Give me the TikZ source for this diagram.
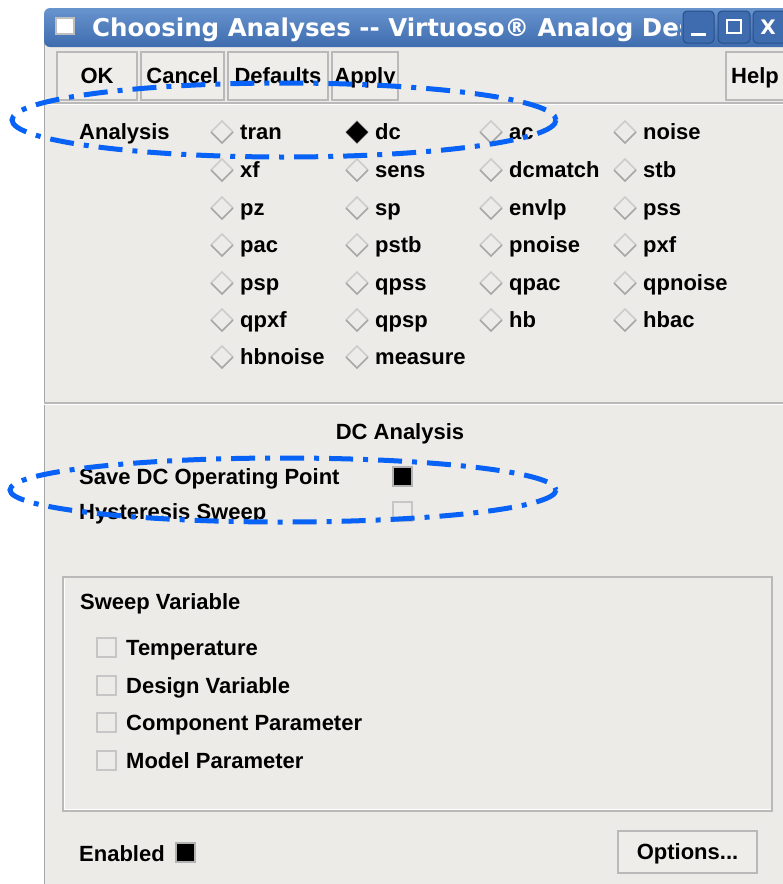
\documentclass[tikz,border=0pt]{standalone}
\usepackage{fontspec}
\setmainfont{Liberation Sans}
\newfontfamily\titlefont{DejaVu Sans}
\definecolor{winbg}{RGB}{237,235,231}
\definecolor{btnbg}{RGB}{238,237,234}
\definecolor{titletop}{RGB}{104,148,206}
\definecolor{titlebot}{RGB}{62,108,174}
\definecolor{titleedge}{RGB}{40,78,140}
\definecolor{markblue}{RGB}{8,98,245}
\tikzset{
  lbl/.style={anchor=base west,inner sep=0pt,font=\fontsize{22}{26}\selectfont\bfseries},
  btn/.style={draw=gray!55,fill=btnbg,line width=1.2pt,inner sep=0pt,
    font=\fontsize{22}{26}\selectfont\bfseries,text height=15.8pt,text depth=0pt},
  winbtn/.style={draw=titleedge,fill=titlebot,rounded corners=4pt,line width=1pt},
  hilite/.style={draw=markblue,line width=5pt,dash pattern=on 24pt off 10pt on 5pt off 10pt},
  boxoff/.style={draw=gray!45,fill=winbg,line width=1.2pt},
  boxon/.style={draw=gray!60,fill=black,line width=1.2pt}
}
\begin{document}
\begin{tikzpicture}[x=1pt,y=-1pt]
	\useasboundingbox (0,0) rectangle (783,884);
	\fill[winbg] (44,40) rectangle (783,884);%window body
	\draw[gray!70,line width=1.2pt] (44.6,30) -- (44.6,884);%left border

	% title bar
	\shade[top color=titletop,bottom color=titlebot,rounded corners=6pt] (44,8) rectangle (800,47);
	\draw[gray!50,fill=white,line width=1.5pt] (56,18) rectangle (74,34);%window icon
	\begin{scope}
		\clip (44,8) rectangle (680,47);
		\node[anchor=base west,inner sep=0pt,text=white,font=\titlefont\fontsize{24.5}{28}\selectfont\bfseries] (title) at (92,36) {Choosing Analyses -- Virtuoso® Analog Des};
	\end{scope}
	\draw[winbtn] (683,11) rectangle (714,43);%minimize
	\draw[white,line width=3pt] (691,34) -- (706,34);
	\draw[winbtn] (718,11) rectangle (750,43);%maximize
	\draw[white,line width=2.2pt] (727,20) rectangle (741,33);
	\draw[winbtn] (753,11) rectangle (790,43);%close
	\node[inner sep=0pt,text=white,font=\titlefont\fontsize{20}{24}\selectfont\bfseries] (close) at (768,27) {X};

	% toolbar
	\node[btn,minimum width=80pt,minimum height=48pt] (ok) at (97,76) {OK};
	\node[btn,minimum width=83pt,minimum height=48pt] (cancel) at (182.5,76) {Cancel};
	\node[btn,minimum width=100pt,minimum height=48pt] (defaults) at (278,76) {Defaults};
	\node[btn,minimum width=66pt,minimum height=48pt] (apply) at (365,76) {Apply};
	\node[btn,minimum width=58pt,minimum height=48pt] (help) at (755,76) {Help};
	\draw[gray!55,line width=1.2pt] (44,103) -- (783,103);
	\draw[white,line width=1.2pt] (44,104.5) -- (783,104.5);

	% analysis choice
	\node[lbl] (analysis) at (79,139) {Analysis};
	\foreach \lab/\cx/\by in {tran/222/139,dc/357/139,ac/491/139,noise/625/139,
	  xf/222/177,sens/357/177,dcmatch/491/177,stb/625/177,
	  pz/222/215,sp/357/215,envlp/491/215,pss/625/215,
	  pac/222/252,pstb/357/252,pnoise/491/252,pxf/625/252,
	  psp/222/290,qpss/357/290,qpac/491/290,qpnoise/625/290,
	  qpxf/222/327,qpsp/357/327,hb/491/327,hbac/625/327,
	  hbnoise/222/364,measure/357/364}{
		\draw[gray!40,line width=1.6pt] (\cx-11,\by-7) -- (\cx,\by-18) -- (\cx+11,\by-7);
		\draw[gray!70,line width=1.6pt] (\cx-11,\by-7) -- (\cx,\by+4) -- (\cx+11,\by-7);
		\node[lbl] (r\lab) at (\cx+18,\by) {\lab};
	}
	\fill[black] (346,132) -- (357,121) -- (368,132) -- (357,143) -- cycle;%dc selected

	\draw[gray!55,line width=1.2pt] (44,403) -- (783,403);
	\draw[white,line width=1.2pt] (44,404.5) -- (783,404.5);

	% DC options
	\node[anchor=base,inner sep=0pt,font=\fontsize{22}{26}\selectfont\bfseries] (dchead) at (400,439) {DC Analysis};
	\node[lbl] (savedc) at (79,484) {Save DC Operating Point};
	\draw[boxon] (393,467) rectangle (412,486);
	\node[lbl] (hyst) at (79,519) {Hysteresis Sweep};
	\draw[boxoff] (393,502) rectangle (412,521);

	% sweep variable frame
	\draw[gray!55,line width=1.2pt] (63,577) rectangle (772,811);
	\draw[white,line width=1.2pt] (64.5,578.5) -- (64.5,809.5) -- (770.5,809.5);
	\node[lbl] (sweep) at (80,609) {Sweep Variable};
	\draw[boxoff] (97,638) rectangle (116,657);
	\node[lbl] (temp) at (126,655) {Temperature};
	\draw[boxoff] (97,676) rectangle (116,695);
	\node[lbl] (desvar) at (126,693) {Design Variable};
	\draw[boxoff] (97,713) rectangle (116,732);
	\node[lbl] (comppar) at (126,730) {Component Parameter};
	\draw[boxoff] (97,751) rectangle (116,770);
	\node[lbl] (modpar) at (126,768) {Model Parameter};

	% bottom row
	\node[lbl] (enabled) at (79,861) {Enabled};
	\draw[boxon] (176,843) rectangle (195,862);
	\node[btn,minimum width=139pt,minimum height=42pt] (options) at (687.5,852) {Options...};

	% highlight marks
	\draw[hilite] (284,120) ellipse [x radius=272,y radius=37];
	\draw[hilite] (283,490) ellipse [x radius=273,y radius=32];
\end{tikzpicture}
\end{document}
